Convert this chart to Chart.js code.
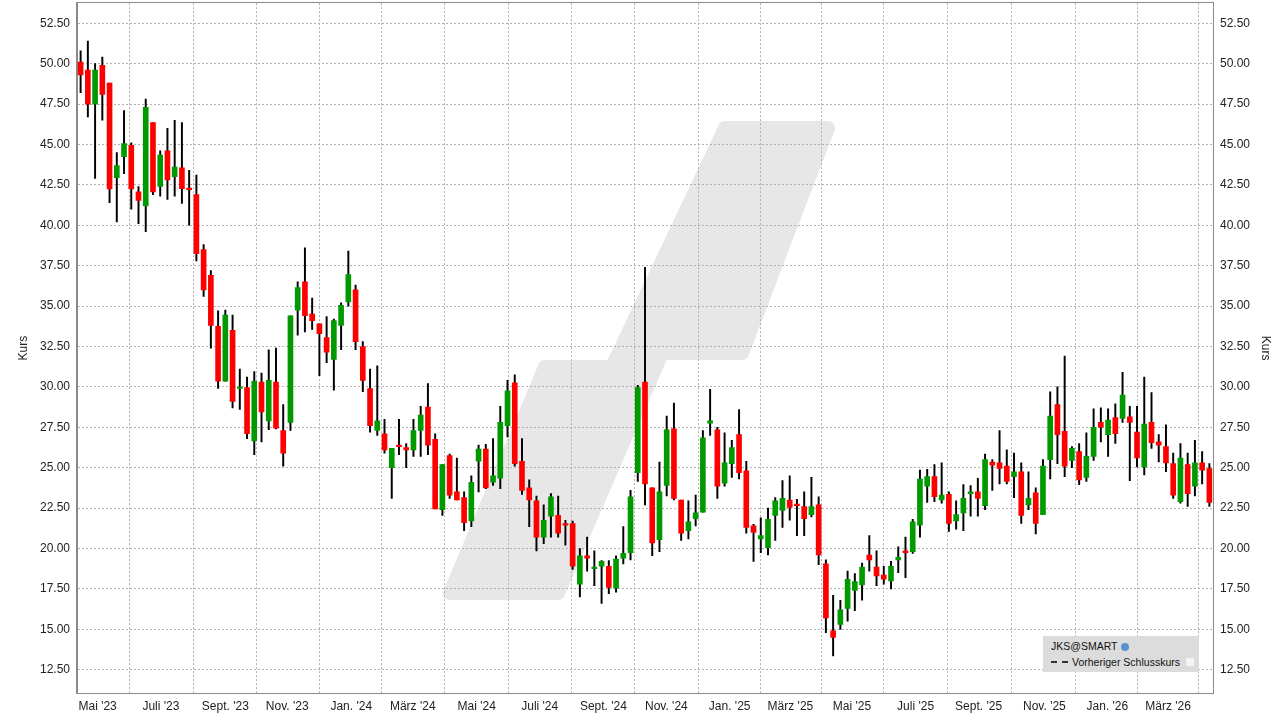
<!DOCTYPE html>
<html><head><meta charset="utf-8">
<script src="https://cdn.jsdelivr.net/npm/chart.js@4/dist/chart.umd.min.js"></script>
<style>
html,body{margin:0;padding:0;background:#fff;overflow:hidden;}
#wrap{position:relative;width:1279px;height:720px;overflow:hidden;}
#c{position:absolute;left:0;top:-11px;}
#legend{position:absolute;left:1043px;top:636px;width:156px;height:36px;background:#dcdcdc;font:10.5px "Liberation Sans",Arial,sans-serif;color:#111;white-space:nowrap;}
#legend .r1{position:absolute;left:8px;top:4px;}
#legend .r2{position:absolute;left:8px;top:20px;}
.globe{display:inline-block;width:8px;height:8px;border-radius:50%;background:#5a8fd0;margin-left:4px;vertical-align:-1px;}
.dash{display:inline-block;width:17px;border-top:2px dashed #333;vertical-align:3px;margin-right:4px;}
.sq{display:inline-block;width:8px;height:8px;background:#f4f4f4;border:1px solid #ddd;margin-left:5px;vertical-align:-1px;}
</style></head>
<body><div id="wrap"><canvas id="c" width="1279" height="731"></canvas>
<div id="legend"><div class="r1">JKS@SMART<span class="globe"></span></div><div class="r2"><span class="dash"></span>Vorheriger Schlusskurs<span class="sq"></span></div></div>
</div>
<script>
const open=[50.1,49.6,47.5,49.9,48.8,42.95,44.25,44.95,42.07,41.2,
46.35,42.4,44.6,43.0,43.55,42.3,41.9,38.5,36.9,33.75,
30.35,33.5,29.9,29.95,26.65,30.3,27.9,30.3,27.3,27.8,
34.75,36.5,34.5,33.9,33.05,31.7,33.8,35.25,36.0,32.5,
29.9,27.3,27.1,25.0,26.4,26.25,26.1,27.3,28.75,26.75,
22.4,25.75,23.5,23.15,21.7,25.4,26.15,24.1,24.35,27.6,
30.25,25.4,23.75,22.95,20.7,22.0,22.05,21.55,21.55,17.8,
19.55,18.75,18.9,18.9,17.55,19.4,19.75,24.7,30.3,23.75,
20.55,23.9,27.4,23.0,21.1,21.85,22.25,27.75,27.35,24.05,
25.25,27.05,24.8,21.4,20.6,20.05,22.05,22.35,23.0,22.75,
22.6,22.1,22.7,19.05,14.9,15.3,16.3,17.4,17.75,19.6,
18.85,18.35,18.0,19.3,19.85,19.8,21.45,23.85,24.45,23.0,
23.35,21.7,22.2,23.4,23.5,22.65,25.35,25.3,25.1,24.45,
24.75,22.7,23.45,22.1,25.5,28.9,27.25,25.45,26.0,24.4,
25.7,27.8,27.05,28.1,28.05,28.15,27.2,25.05,27.8,26.6,
26.3,25.25,22.9,25.2,23.85,25.3,24.95];
const close=[49.3,47.5,49.6,48.1,42.25,43.7,45.05,42.25,41.53,47.3,
42.07,44.35,42.8,43.6,42.27,42.2,38.25,36.0,33.8,30.35,
34.45,29.1,30.0,27.1,30.35,28.45,30.4,27.45,25.9,34.4,
36.15,34.4,34.1,33.3,32.15,34.1,35.05,36.95,32.8,30.4,
27.6,27.9,26.1,26.2,26.3,26.1,27.3,28.25,26.4,22.45,
25.2,23.3,23.0,21.6,24.1,26.15,23.75,24.5,27.8,29.75,
25.25,23.6,23.0,20.7,21.75,23.2,20.95,21.45,18.9,19.55,
19.4,18.85,19.2,17.6,19.35,19.7,23.2,29.95,24.0,20.35,
23.5,27.35,23.1,20.95,21.65,22.2,26.85,27.9,23.85,25.3,
26.25,24.7,21.3,21.0,20.8,21.8,22.95,23.1,22.55,22.65,
21.85,22.6,19.6,15.7,14.5,16.2,18.1,17.95,18.85,19.3,
18.3,18.1,18.9,19.45,19.75,21.65,24.3,24.45,23.2,23.3,
21.55,22.1,23.1,23.5,23.1,25.5,25.15,24.95,24.15,24.75,
22.05,23.1,21.55,25.1,28.2,27.05,25.1,26.2,24.25,25.7,
27.5,27.5,27.95,27.1,29.5,27.8,25.6,27.7,26.55,26.4,
25.3,23.3,25.6,23.4,25.3,24.85,22.85];
const high=[50.8,51.4,50.0,50.4,48.8,44.5,47.1,45.1,42.4,47.8,
46.35,44.6,46.0,46.5,46.35,43.4,43.1,38.8,37.2,34.7,
34.75,34.45,31.1,30.6,30.95,30.85,32.3,32.4,28.9,34.4,
36.5,38.6,35.5,33.9,34.35,34.2,35.2,38.4,36.3,32.8,
31.1,31.3,28.0,26.2,28.0,26.5,28.0,28.8,30.2,27.1,
25.2,25.85,25.6,23.5,24.5,26.4,26.45,26.8,28.8,30.4,
30.75,26.8,24.25,23.25,22.7,23.4,23.25,21.75,21.7,20.0,
20.7,19.85,19.25,19.25,19.55,21.35,23.6,30.1,37.4,23.75,
25.35,28.2,29.0,23.0,22.95,23.3,27.3,29.85,27.5,27.15,
26.7,28.6,25.4,21.5,21.9,22.5,23.15,24.2,24.5,23.05,
23.5,24.4,23.2,19.3,17.1,16.8,18.6,18.45,19.1,20.8,
19.85,18.9,19.2,20.1,20.7,21.8,24.85,24.9,25.2,25.3,
23.5,22.95,23.95,23.9,24.35,25.85,25.5,27.3,26.1,25.9,
25.3,24.75,23.75,25.5,29.7,30.0,31.9,26.3,26.5,27.15,
28.65,28.7,28.65,28.95,30.9,28.8,28.8,30.6,29.65,27.05,
27.65,25.9,26.5,25.9,26.7,26.0,25.25];
const low=[48.2,46.7,42.9,46.5,41.4,40.2,43.2,41.0,40.1,39.6,
41.9,41.8,41.6,41.8,41.35,40.0,37.8,35.6,32.4,29.9,
30.35,28.7,28.6,26.8,25.8,26.6,27.35,27.4,25.1,27.3,
33.2,33.4,33.55,30.7,31.5,29.8,32.3,35.0,32.3,29.7,
27.2,27.0,25.9,23.1,25.8,25.0,25.7,25.7,25.8,22.45,
22.05,23.1,23.0,21.1,21.35,23.5,23.7,23.9,23.7,26.9,
25.1,23.35,21.35,19.85,20.3,20.7,20.7,20.2,18.7,17.0,
18.6,17.7,16.6,17.2,17.3,19.05,19.3,24.15,22.7,19.55,
19.8,23.25,23.0,20.5,20.6,21.4,22.25,27.0,23.1,23.85,
24.4,24.3,20.95,19.2,19.75,19.6,20.5,21.3,21.75,20.8,
20.8,21.95,19.0,14.8,13.35,15.0,15.5,16.15,16.8,18.6,
17.7,17.8,17.5,18.5,18.2,19.7,20.7,22.85,22.9,22.8,
21.05,21.2,21.1,22.0,22.0,22.4,23.6,24.0,24.0,23.15,
21.55,22.4,20.9,22.1,24.3,25.25,24.45,25.0,23.95,24.15,
25.45,26.6,25.7,26.5,27.8,24.2,25.05,24.55,26.2,25.35,
24.75,23.1,22.8,22.6,23.25,24.0,22.6];
const monthLabels=["Mai '23","Juli '23","Sept. '23","Nov. '23","Jan. '24","März '24","Mai '24","Juli '24","Sept. '24","Nov. '24","Jan. '25","März '25","Mai '25","Juli '25","Sept. '25","Nov. '25","Jan. '26","März '26"];
const monthPos=[2.35,11.1,20.0,28.55,37.4,45.9,54.75,63.45,72.25,80.95,89.7,98.1,106.6,115.4,124.1,133.2,141.9,150.3];
const yTicks=[12.5,15,17.5,20,22.5,25,27.5,30,32.5,35,37.5,40,42.5,45,47.5,50,52.5];

const bodies=open.map((o,i)=>({x:i,y:[o,Math.abs(close[i]-o)<0.08?o+(close[i]>=o?0.08:-0.08):close[i]]}));
const wicks=low.map((l,i)=>({x:i,y:[l,high[i]]}));
const cols=open.map((o,i)=>close[i]>=o?'#009a00':'#ff0000');

const FONT={family:'"Liberation Sans", Arial, sans-serif',size:12};
const gridOpt={color:'#b0b0b0',drawTicks:false,lineWidth:1};
const borderOpt={color:'#8a8a8a',dash:[2,2]};
const OY=11;
const watermark={id:'wm',beforeDraw(ch){const c=ch.ctx;c.save();c.fillStyle='#e7e7e7';c.strokeStyle='#e7e7e7';c.lineJoin='round';c.lineWidth=14;
const p=[[450,593],[545,367],[612,367],[725,128],[828,128],[742,353],[662,353],[558,593]];
c.beginPath();p.forEach((q,i)=>i?c.lineTo(q[0],q[1]+OY):c.moveTo(q[0],q[1]+OY));c.closePath();c.fill();c.stroke();c.restore();}};
const frame={id:'frame',afterDatasetsDraw(ch){const a=ch.chartArea,c=ch.ctx;c.save();c.strokeStyle='#8a8a8a';c.lineWidth=1;c.strokeRect(Math.round(a.left)-0.5,Math.round(a.top)-0.5,Math.round(a.right-a.left)+1,Math.round(a.bottom-a.top)+1);c.restore();}};
new Chart(document.getElementById('c'),{
 type:'bar',
 data:{datasets:[
  {data:bodies,backgroundColor:cols,barThickness:5,grouped:false,xAxisID:'x',yAxisID:'y'},
  {data:wicks,backgroundColor:'#000',barThickness:1.3,grouped:false,xAxisID:'x',yAxisID:'y'}
 ]},
 plugins:[watermark,frame],
 options:{responsive:false,animation:false,devicePixelRatio:1,
  plugins:{legend:{display:false},tooltip:{enabled:false}},
  scales:{
   x:{type:'linear',min:-0.5,max:156.5,offset:false,grid:gridOpt,border:borderOpt,
     afterBuildTicks(s){s.ticks=monthPos.map(v=>({value:v}));},
     afterFit(s){s.height=27;},
     ticks:{font:FONT,color:'#222',padding:6,maxRotation:0,autoSkip:false,callback:(v,i)=>monthLabels[i]}},
   y:{position:'left',min:11.06,max:53.74,grid:gridOpt,border:borderOpt,
     afterBuildTicks(s){s.ticks=yTicks.map(v=>({value:v}));},
     afterFit(s){s.width=77;},
     title:{display:true,text:'Kurs',font:FONT,color:'#222',padding:{top:16,bottom:0}},
     ticks:{font:FONT,color:'#222',padding:7,callback:v=>v.toFixed(2)}},
   y2:{position:'right',min:11.06,max:53.74,grid:{display:false,drawTicks:false},border:{color:'#8a8a8a'},
     afterBuildTicks(s){s.ticks=yTicks.map(v=>({value:v}));},
     afterFit(s){s.width=66;},
     title:{display:true,text:'Kurs',font:FONT,color:'#222',padding:{top:6,bottom:0}},
     ticks:{font:FONT,color:'#222',padding:7,callback:v=>v.toFixed(2)}}
  }}
});
</script></body></html>
